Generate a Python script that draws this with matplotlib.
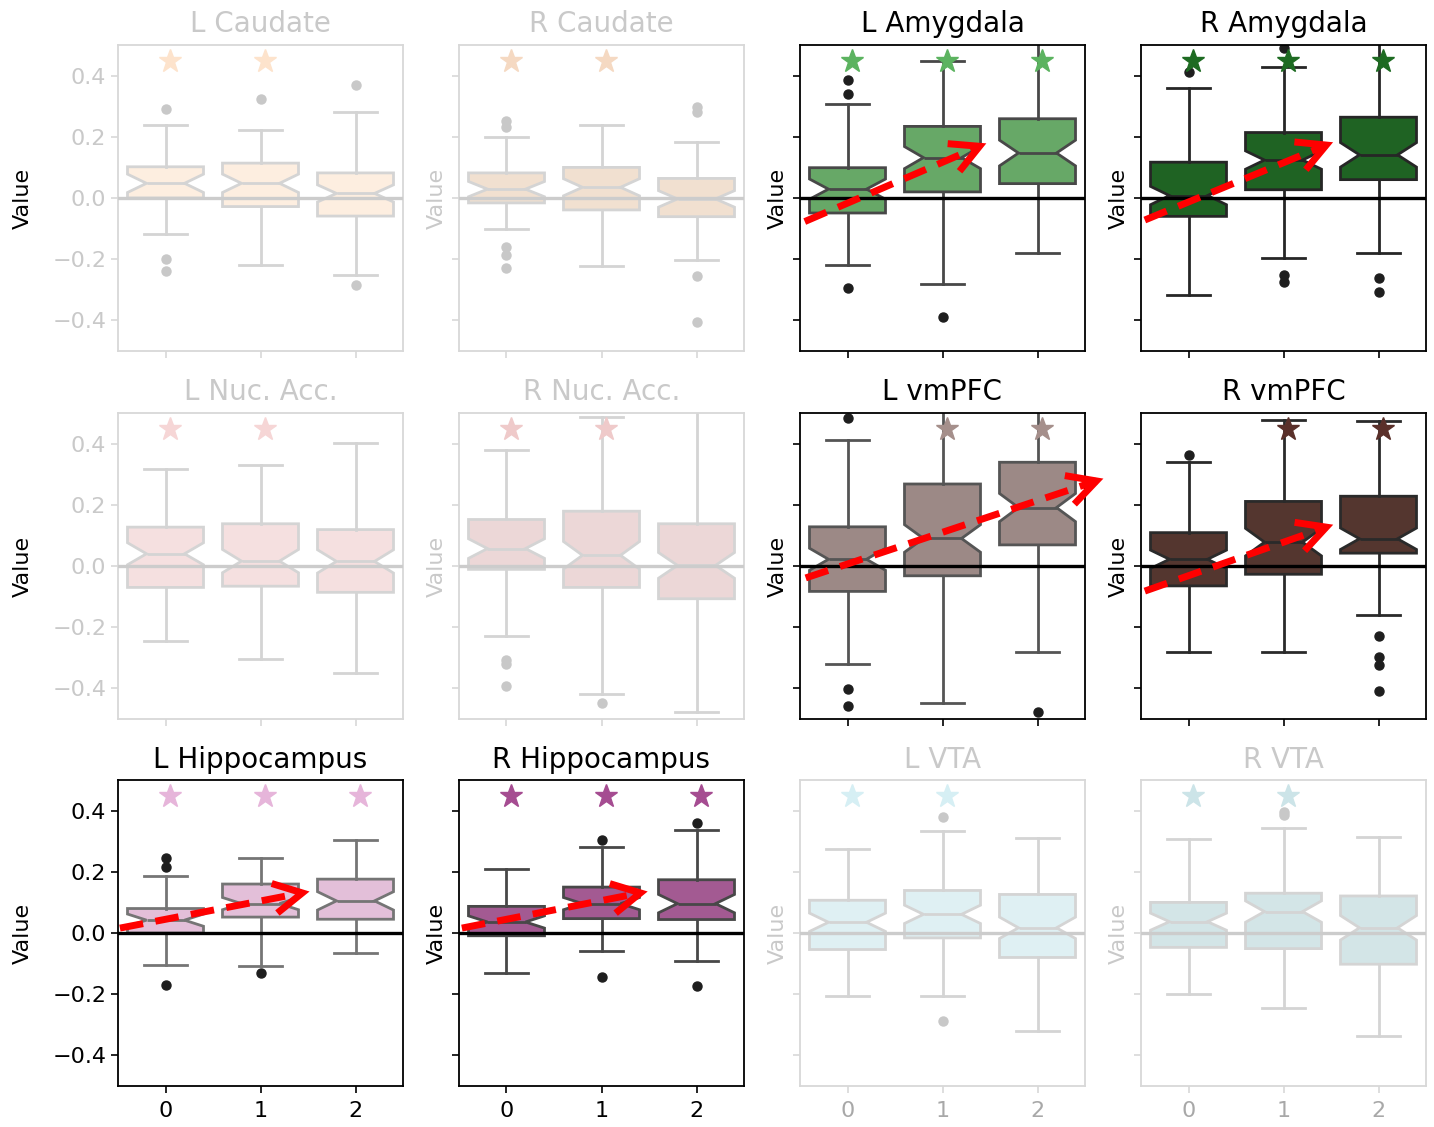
import matplotlib
matplotlib.use("Agg")
import numpy as np
import matplotlib.pyplot as plt
from matplotlib.transforms import IdentityTransform
from matplotlib.lines import Line2D

# ---------------- data ----------------
panels = ["L Caudate", "R Caudate", "L Amygdala", "R Amygdala",
          "L Nuc. Acc.", "R Nuc. Acc.", "L vmPFC", "R vmPFC",
          "L Hippocampus", "R Hippocampus", "L VTA", "R VTA"]
groups = [0, 1, 2]

medians = {
    "L Caudate": [0.048, 0.048, 0.015], "R Caudate": [0.029, 0.035, -0.003],
    "L Amygdala": [0.029, 0.132, 0.147], "R Amygdala": [0.008, 0.124, 0.141],
    "L Nuc. Acc.": [0.040, 0.016, 0.015], "R Nuc. Acc.": [0.057, 0.035, 0.002],
    "L vmPFC": [0.022, 0.090, 0.191], "R vmPFC": [0.022, 0.078, 0.089],
    "L Hippocampus": [0.042, 0.096, 0.105], "R Hippocampus": [0.036, 0.096, 0.096],
    "L VTA": [0.035, 0.061, 0.017], "R VTA": [0.037, 0.070, 0.017],
}
q1 = {
    "L Caudate": [0.0, -0.028, -0.059], "R Caudate": [-0.016, -0.039, -0.061],
    "L Amygdala": [-0.049, 0.020, 0.047], "R Amygdala": [-0.060, 0.027, 0.060],
    "L Nuc. Acc.": [-0.070, -0.066, -0.086], "R Nuc. Acc.": [-0.011, -0.070, -0.107],
    "L vmPFC": [-0.083, -0.032, 0.069], "R vmPFC": [-0.065, -0.027, 0.042],
    "L Hippocampus": [0.0, 0.052, 0.045], "R Hippocampus": [-0.009, 0.047, 0.044],
    "L VTA": [-0.054, -0.016, -0.080], "R VTA": [-0.047, -0.051, -0.102],
}
q3 = {
    "L Caudate": [0.102, 0.114, 0.082], "R Caudate": [0.082, 0.100, 0.064],
    "L Amygdala": [0.099, 0.234, 0.259], "R Amygdala": [0.117, 0.214, 0.264],
    "L Nuc. Acc.": [0.127, 0.138, 0.119], "R Nuc. Acc.": [0.152, 0.179, 0.138],
    "L vmPFC": [0.128, 0.268, 0.339], "R vmPFC": [0.109, 0.211, 0.228],
    "L Hippocampus": [0.080, 0.160, 0.176], "R Hippocampus": [0.087, 0.150, 0.174],
    "L VTA": [0.107, 0.139, 0.126], "R VTA": [0.100, 0.130, 0.121],
}
whisker_lo = {
    "L Caudate": [-0.119, -0.218, -0.252], "R Caudate": [-0.100, -0.221, -0.203],
    "L Amygdala": [-0.218, -0.280, -0.181], "R Amygdala": [-0.316, -0.195, -0.181],
    "L Nuc. Acc.": [-0.245, -0.305, -0.350], "R Nuc. Acc.": [-0.229, -0.417, -0.476],
    "L vmPFC": [-0.319, -0.448, -0.282], "R vmPFC": [-0.282, -0.282, -0.161],
    "L Hippocampus": [-0.103, -0.107, -0.066], "R Hippocampus": [-0.131, -0.058, -0.090],
    "L VTA": [-0.205, -0.207, -0.319], "R VTA": [-0.198, -0.246, -0.337],
}
whisker_hi = {
    "L Caudate": [0.240, 0.223, 0.282], "R Caudate": [0.198, 0.239, 0.184],
    "L Amygdala": [0.307, 0.449, 0.52], "R Amygdala": [0.359, 0.429, 0.52],
    "L Nuc. Acc.": [0.317, 0.331, 0.402], "R Nuc. Acc.": [0.378, 0.487, 0.52],
    "L vmPFC": [0.413, 0.52, 0.52], "R vmPFC": [0.340, 0.478, 0.473],
    "L Hippocampus": [0.185, 0.244, 0.303], "R Hippocampus": [0.210, 0.281, 0.335],
    "L VTA": [0.275, 0.333, 0.309], "R VTA": [0.307, 0.343, 0.314],
}
notch_half = {
    "L Caudate": [0.030, 0.030, 0.028], "R Caudate": [0.025, 0.028, 0.027],
    "L Amygdala": [0.033, 0.036, 0.042], "R Amygdala": [0.030, 0.030, 0.040],
    "L Nuc. Acc.": [0.036, 0.038, 0.038], "R Nuc. Acc.": [0.032, 0.045, 0.042],
    "L vmPFC": [0.036, 0.045, 0.046], "R vmPFC": [0.030, 0.045, 0.035],
    "L Hippocampus": [0.020, 0.020, 0.030], "R Hippocampus": [0.020, 0.020, 0.030],
    "L VTA": [0.030, 0.030, 0.035], "R VTA": [0.028, 0.035, 0.040],
}
outliers = {
    "L Caudate": [[0.29, -0.198, -0.237], [0.324], [0.368, -0.284]],
    "R Caudate": [[0.253, 0.231, -0.161, -0.186, -0.230], [], [0.296, 0.282, -0.256, -0.406]],
    "L Amygdala": [[0.386, 0.340, -0.295], [-0.388], []],
    "R Amygdala": [[0.411], [0.49, -0.252, -0.273], [-0.262, -0.306]],
    "L Nuc. Acc.": [[], [], []],
    "R Nuc. Acc.": [[-0.306, -0.319, -0.391], [-0.447], []],
    "L vmPFC": [[0.484, -0.401, -0.459], [], [-0.477]],
    "R vmPFC": [[0.364], [], [-0.230, -0.297, -0.325, -0.408]],
    "L Hippocampus": [[0.246, 0.216, -0.169], [-0.130], []],
    "R Hippocampus": [[], [0.303, -0.144], [0.359, -0.173]],
    "L VTA": [[], [0.379, -0.286], []],
    "R VTA": [[], [0.395, 0.386], []],
}
significant = {
    "L Caudate": [0, 1], "R Caudate": [0, 1], "L Amygdala": [0, 1, 2],
    "R Amygdala": [0, 1, 2], "L Nuc. Acc.": [0, 1], "R Nuc. Acc.": [0, 1],
    "L vmPFC": [1, 2], "R vmPFC": [1, 2], "L Hippocampus": [0, 1, 2],
    "R Hippocampus": [0, 1, 2], "L VTA": [0, 1], "R VTA": [0, 1],
}
star_level = 0.447
faded = ["L Caudate", "R Caudate", "L Nuc. Acc.", "R Nuc. Acc.", "L VTA", "R VTA"]

# trend arrows (start, end) in data coordinates of each highlighted panel
arrow_start = {"L Amygdala": (-0.45, -0.077), "R Amygdala": (-0.46, -0.072),
               "L vmPFC": (-0.44, -0.039), "R vmPFC": (-0.46, -0.082),
               "L Hippocampus": (-0.48, 0.016), "R Hippocampus": (-0.47, 0.016)}
arrow_end = {"L Amygdala": (1.39, 0.169), "R Amygdala": (1.45, 0.173),
             "L vmPFC": (2.62, 0.278), "R vmPFC": (1.45, 0.127),
             "L Hippocampus": (1.44, 0.131), "R Hippocampus": (1.41, 0.131)}

# ---------------- styling ----------------
box_color = {
    "L Caudate": "#fdeee0", "R Caudate": "#f1e0d0", "L Amygdala": "#67a867",
    "R Amygdala": "#1f6323", "L Nuc. Acc.": "#f5e0e0", "R Nuc. Acc.": "#ecd7d7",
    "L vmPFC": "#9c8986", "R vmPFC": "#54362f", "L Hippocampus": "#e3bfd9",
    "R Hippocampus": "#a35a92", "L VTA": "#dff0f3", "R VTA": "#d3e5e7",
}
star_color = {
    "L Caudate": "#fde3cc", "R Caudate": "#f5d9c2", "L Amygdala": "#5cb360",
    "R Amygdala": "#1e6b22", "L Nuc. Acc.": "#f6d6d6", "R Nuc. Acc.": "#efcaca",
    "L vmPFC": "#a58f8b", "R vmPFC": "#5a302a", "L Hippocampus": "#e6b5da",
    "R Hippocampus": "#a54c91", "L VTA": "#d6eff4", "R VTA": "#cce4e8",
}
edge_color = {
    "L Amygdala": "#484848", "R Amygdala": "#262626", "L vmPFC": "#555555",
    "R vmPFC": "#2a2a2a", "L Hippocampus": "#757575", "R Hippocampus": "#484848",
}
FADE_EDGE = "#d4d4d4"
FADE_TEXT = "#c9c9c9"
FADE_SPINE = "#d8d8d8"
FADE_FLIER = "#c8c8c8"

W, H = 1434, 1127
fig = plt.figure(figsize=(W / 100, H / 100), dpi=100)
col_left = [118, 459, 800, 1141]
row_top = [45, 413, 780]
ax_w, ax_h = 285, 306

ARROW_LW = 5.0
HEAD_LEN_PX = 32
HEAD_ANGLE = np.deg2rad(28)

for idx, name in enumerate(panels):
    r, c = divmod(idx, 4)
    ax = fig.add_axes([col_left[c] / W, 1 - (row_top[r] + ax_h) / H, ax_w / W, ax_h / H])
    is_faded = name in faded
    ec = FADE_EDGE if is_faded else edge_color[name]
    fl = FADE_FLIER if is_faded else "#1e1e1e"
    txt = FADE_TEXT if is_faded else "black"
    spc = FADE_SPINE if is_faded else "black"

    stats = []
    for g in groups:
        m = medians[name][g]
        stats.append(dict(med=m, q1=q1[name][g], q3=q3[name][g],
                          whislo=whisker_lo[name][g], whishi=whisker_hi[name][g],
                          cilo=m - notch_half[name][g], cihi=m + notch_half[name][g],
                          fliers=outliers[name][g]))
    lw = 2.0
    ax.bxp(stats, positions=groups, widths=0.8, capwidths=0.45, shownotches=True,
           patch_artist=True,
           boxprops=dict(facecolor=box_color[name], edgecolor=ec, linewidth=lw),
           medianprops=dict(color=ec, linewidth=lw),
           whiskerprops=dict(color=ec, linewidth=lw),
           capprops=dict(color=ec, linewidth=lw),
           flierprops=dict(marker="o", markersize=6.5, markerfacecolor=fl,
                           markeredgecolor=fl))

    ax.axhline(0, color=("#cccccc" if is_faded else "black"), lw=2.4, zorder=4)

    sx = [g + 0.05 for g in significant[name]]
    ax.plot(sx, [star_level] * len(sx), linestyle="none", marker="*",
            markersize=17, color=star_color[name], zorder=5)

    ax.set_xlim(-0.5, 2.5)
    ax.set_ylim(-0.5, 0.5)
    ax.set_yticks([-0.4, -0.2, 0.0, 0.2, 0.4])
    ax.set_xticks(groups)
    ax.set_xticklabels([str(g) for g in groups])
    ax.set_title(name, fontsize=20, color=txt, pad=9)
    ylab_color = "black" if (is_faded and c == 0) else txt
    ax.set_ylabel("Value", fontsize=16, color=ylab_color,
                  labelpad=(14 if c == 0 else 4))
    xt_color = "#a8a8a8" if is_faded else "black"
    ax.tick_params(axis="x", colors=spc, labelcolor=xt_color, labelsize=16,
                   length=5, width=1.2, pad=6, labelbottom=(r == 2))
    ax.tick_params(axis="y", colors=spc, labelcolor=txt, labelsize=16,
                   length=5, width=1.2, labelleft=(c == 0))
    for sp in ax.spines.values():
        sp.set_color(spc)
        sp.set_linewidth(1.3)

    if name in arrow_start:
        (x0, y0), (x1, y1) = arrow_start[name], arrow_end[name]
        ax.plot([x0, x1], [y0, y1], color="red", lw=ARROW_LW, zorder=10,
                dashes=(3.4, 1.8), dash_capstyle="butt", clip_on=False)
        # chevron head, built in pixel space so it keeps its shape
        p0 = ax.transData.transform((x0, y0))
        p1 = ax.transData.transform((x1, y1))
        d = (p0 - p1) / np.hypot(*(p0 - p1))
        arms = []
        for s in (1, -1):
            ca, sa = np.cos(s * HEAD_ANGLE), np.sin(s * HEAD_ANGLE)
            v = np.array([d[0] * ca - d[1] * sa, d[0] * sa + d[1] * ca])
            arms.append(p1 + HEAD_LEN_PX * v)
        pts = np.array([arms[0], p1, arms[1]])
        fig.add_artist(Line2D(pts[:, 0], pts[:, 1], transform=IdentityTransform(),
                              color="red", lw=ARROW_LW, solid_joinstyle="miter",
                              solid_capstyle="butt", zorder=12))

fig.savefig("out.png", dpi=100)
